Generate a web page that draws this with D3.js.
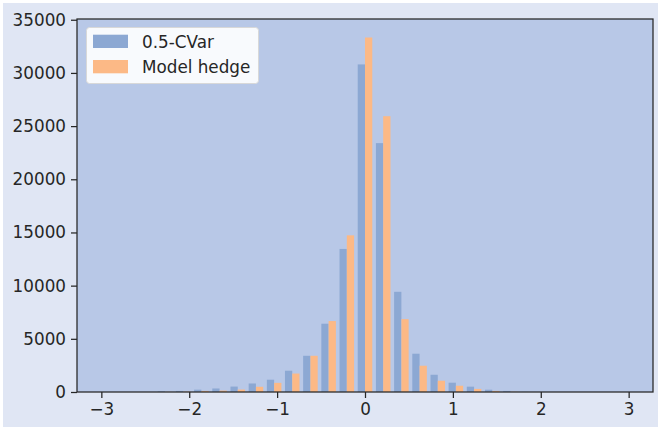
<!DOCTYPE html>
<html><head><meta charset="utf-8">
<script src="https://cdn.jsdelivr.net/npm/d3@7"></script>
<style>html,body{margin:0;padding:0;background:#fff;} svg{display:block;} text{font-family:"DejaVu Sans",sans-serif;}</style>
</head><body>
<svg id="chart" width="658" height="427"></svg>
<script>
const binCenters = [-2.897,-2.690,-2.483,-2.276,-2.069,-1.862,-1.655,-1.448,-1.241,-1.034,-0.828,-0.621,-0.414,-0.207,0,0.207,0.414,0.621,0.828,1.034,1.241,1.448,1.655,1.862,2.069,2.276,2.483,2.690,2.897];
const binWidth = 0.2069;
const seriesNames = ["0.5-CVar","Model hedge"];
const cvarCounts  = [0,0,0,70,100,220,330,510,800,1155,2000,3405,6420,13450,30800,23400,9420,3600,1620,875,500,215,100,10,0,0,0,0,0];
const hedgeCounts = [0,0,0,10,30,100,130,230,490,860,1735,3405,6670,14730,33330,25930,6850,2470,1060,590,290,100,20,0,0,0,0,0,0];
const xTicks = [-3,-2,-1,0,1,2,3];
const yTicks = [0,5000,10000,15000,20000,25000,30000,35000];
const colors = ["#8ca8d3","#fcb986"];

const svg = d3.select("#chart");
const W = 658, H = 427;
const m = {left:77, right:5, top:19, bottom:35};
const iw = W - m.left - m.right, ih = H - m.top - m.bottom;

svg.append("rect").attr("x",3).attr("y",3).attr("width",W-3).attr("height",H-3).attr("fill","#e0e6f4");

const x = d3.scaleLinear().domain([-3.277,3.277]).range([m.left, m.left+iw]);
const y = d3.scaleLinear().domain([0,35070]).range([m.top+ih, m.top]);

svg.append("rect").attr("x",m.left).attr("y",m.top).attr("width",iw).attr("height",ih).attr("fill","#b8c8e7");

const barW = x(0.4*binWidth) - x(0);
[cvarCounts, hedgeCounts].forEach((vals,si)=>{
  svg.append("g").selectAll("rect")
   .data(vals.map((v,i)=>({v,c:binCenters[i]})).filter(d=>d.v>0))
   .join("rect")
   .attr("x",d=>x(d.c - 0.4*binWidth + si*0.4*binWidth))
   .attr("width",barW)
   .attr("y",d=>y(d.v))
   .attr("height",d=>y(0)-y(d.v))
   .attr("fill",colors[si]);
});

// spines
svg.append("rect").attr("x",m.left).attr("y",m.top).attr("width",iw).attr("height",ih)
 .attr("fill","none").attr("stroke","#262626").attr("stroke-width",1.25);

const fmtX = d => d<0 ? "\u2212"+Math.abs(d) : String(d);
const xAxis = d3.axisBottom(x).tickValues(xTicks).tickFormat(fmtX).tickSize(6).tickPadding(5);
const xg = svg.append("g").attr("transform",`translate(0,${m.top+ih})`).call(xAxis);
const yAxis = d3.axisLeft(y).tickValues(yTicks).tickSize(6).tickPadding(5).tickFormat(d3.format("d"));
const yg = svg.append("g").attr("transform",`translate(${m.left},0)`).call(yAxis);
[xg,yg].forEach(a=>{
  a.select(".domain").remove();
  a.selectAll(".tick line").attr("stroke","#262626").attr("stroke-width",1.25);
  a.selectAll(".tick text").attr("fill","#262626").style("font-size","16.8px").style("font-family","'DejaVu Sans',sans-serif");
});

// legend
const lg = svg.append("g");
lg.append("rect").attr("x",86.5).attr("y",27.5).attr("width",172).attr("height",56).attr("rx",3)
  .attr("fill","#ffffff").attr("fill-opacity",0.9).attr("stroke","#d8d8d8").attr("stroke-width",1);
seriesNames.forEach((n,i)=>{
  lg.append("rect").attr("x",93).attr("y",34.7+i*25.3).attr("width",35).attr("height",13.3).attr("fill",colors[i]);
  lg.append("text").attr("x",142).attr("y",47.5+i*25.3).text(n).attr("fill","#262626")
    .style("font-size","16.8px");
});
</script>
</body></html>
